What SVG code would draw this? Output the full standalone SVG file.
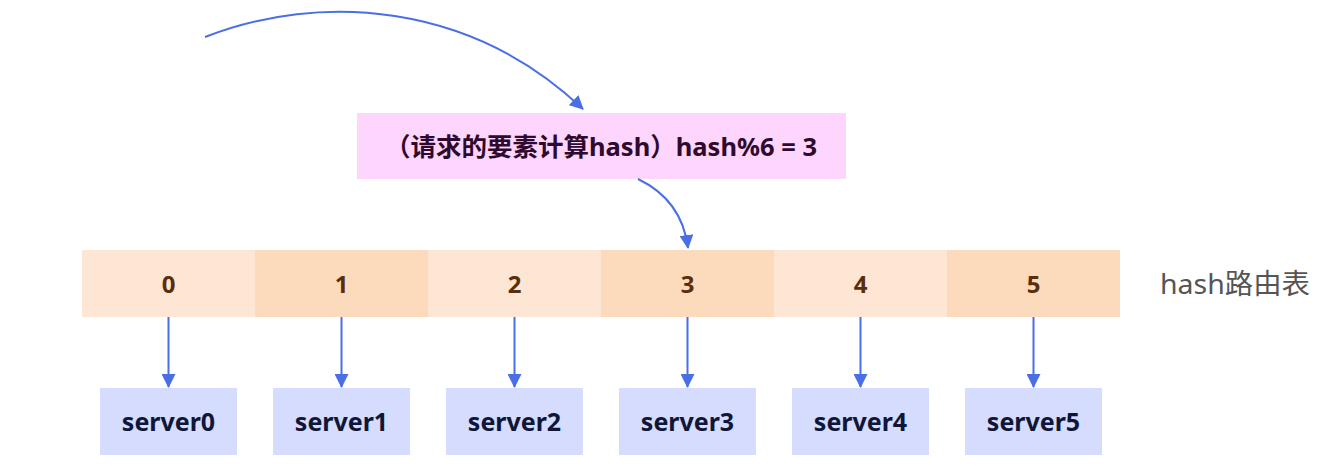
<svg xmlns="http://www.w3.org/2000/svg" width="1344" height="470" viewBox="0 0 1344 470">
<defs>
<marker id="ah" markerUnits="userSpaceOnUse" markerWidth="14" markerHeight="14" viewBox="0 0 14 14" refX="13" refY="7" orient="auto">
<path d="M0,0 L14,7 L0,14 Z" fill="#4a6ee6"/>
</marker>
<style>
.lt{fill:#fee6d4}
.dk{fill:#fcdbbc}
.num{font-family:"Noto Sans","Noto Sans CJK SC",sans-serif;font-weight:bold;font-size:24px;fill:#5a2e0c;text-anchor:middle}
.srv rect{fill:#d5dcfd}
.srv text{font-family:"Noto Sans","Noto Sans CJK SC",sans-serif;font-weight:bold;font-size:25px;fill:#0f1638;text-anchor:middle}
.con{fill:none;stroke:#4a6ee6;stroke-width:2;marker-end:url(#ah)}
</style>
</defs>
<rect width="1344" height="470" fill="#ffffff"/>
<g id="formula">
<rect x="357" y="113" width="489" height="66" fill="#fdd5fd"/>
<text x="601" y="156" font-family="Noto Sans, Noto Sans CJK SC, sans-serif" font-weight="bold" font-size="25.5" fill="#2e0a2e" text-anchor="middle">（请求的要素计算hash）hash%6 = 3</text>
</g>
<g id="table">
<rect class="lt" x="82" y="250" width="173" height="67"/>
<rect class="dk" x="255" y="250" width="173" height="67"/>
<rect class="lt" x="428" y="250" width="173" height="67"/>
<rect class="dk" x="601" y="250" width="173" height="67"/>
<rect class="lt" x="774" y="250" width="173" height="67"/>
<rect class="dk" x="947" y="250" width="173" height="67"/>
<text class="num" x="168.5" y="293">0</text>
<text class="num" x="341.5" y="293">1</text>
<text class="num" x="514.5" y="293">2</text>
<text class="num" x="687.5" y="293">3</text>
<text class="num" x="860.5" y="293">4</text>
<text class="num" x="1033.5" y="293">5</text>
</g>
<g id="table-label">
<text x="1160" y="294" font-family="Noto Sans, Noto Sans CJK SC, sans-serif" font-size="28" fill="#555555" textLength="150" lengthAdjust="spacingAndGlyphs">hash路由表</text>
</g>
<g id="server0" class="srv"><rect x="100" y="388" width="137" height="67"/><text x="168.5" y="431">server0</text></g>
<g id="server1" class="srv"><rect x="273" y="388" width="137" height="67"/><text x="341.5" y="431">server1</text></g>
<g id="server2" class="srv"><rect x="446" y="388" width="137" height="67"/><text x="514.5" y="431">server2</text></g>
<g id="server3" class="srv"><rect x="619" y="388" width="137" height="67"/><text x="687.5" y="431">server3</text></g>
<g id="server4" class="srv"><rect x="792" y="388" width="137" height="67"/><text x="860.5" y="431">server4</text></g>
<g id="server5" class="srv"><rect x="965" y="388" width="137" height="67"/><text x="1033.5" y="431">server5</text></g>
<g id="connectors">
<path class="con" d="M205,37 C320,-8 470,2 583,109"/>
<path class="con" d="M638,179 Q682,200 688,248"/>
<path class="con" d="M168.5,317 V387"/>
<path class="con" d="M341.5,317 V387"/>
<path class="con" d="M514.5,317 V387"/>
<path class="con" d="M687.5,317 V387"/>
<path class="con" d="M860.5,317 V387"/>
<path class="con" d="M1033.5,317 V387"/>
</g>
</svg>
